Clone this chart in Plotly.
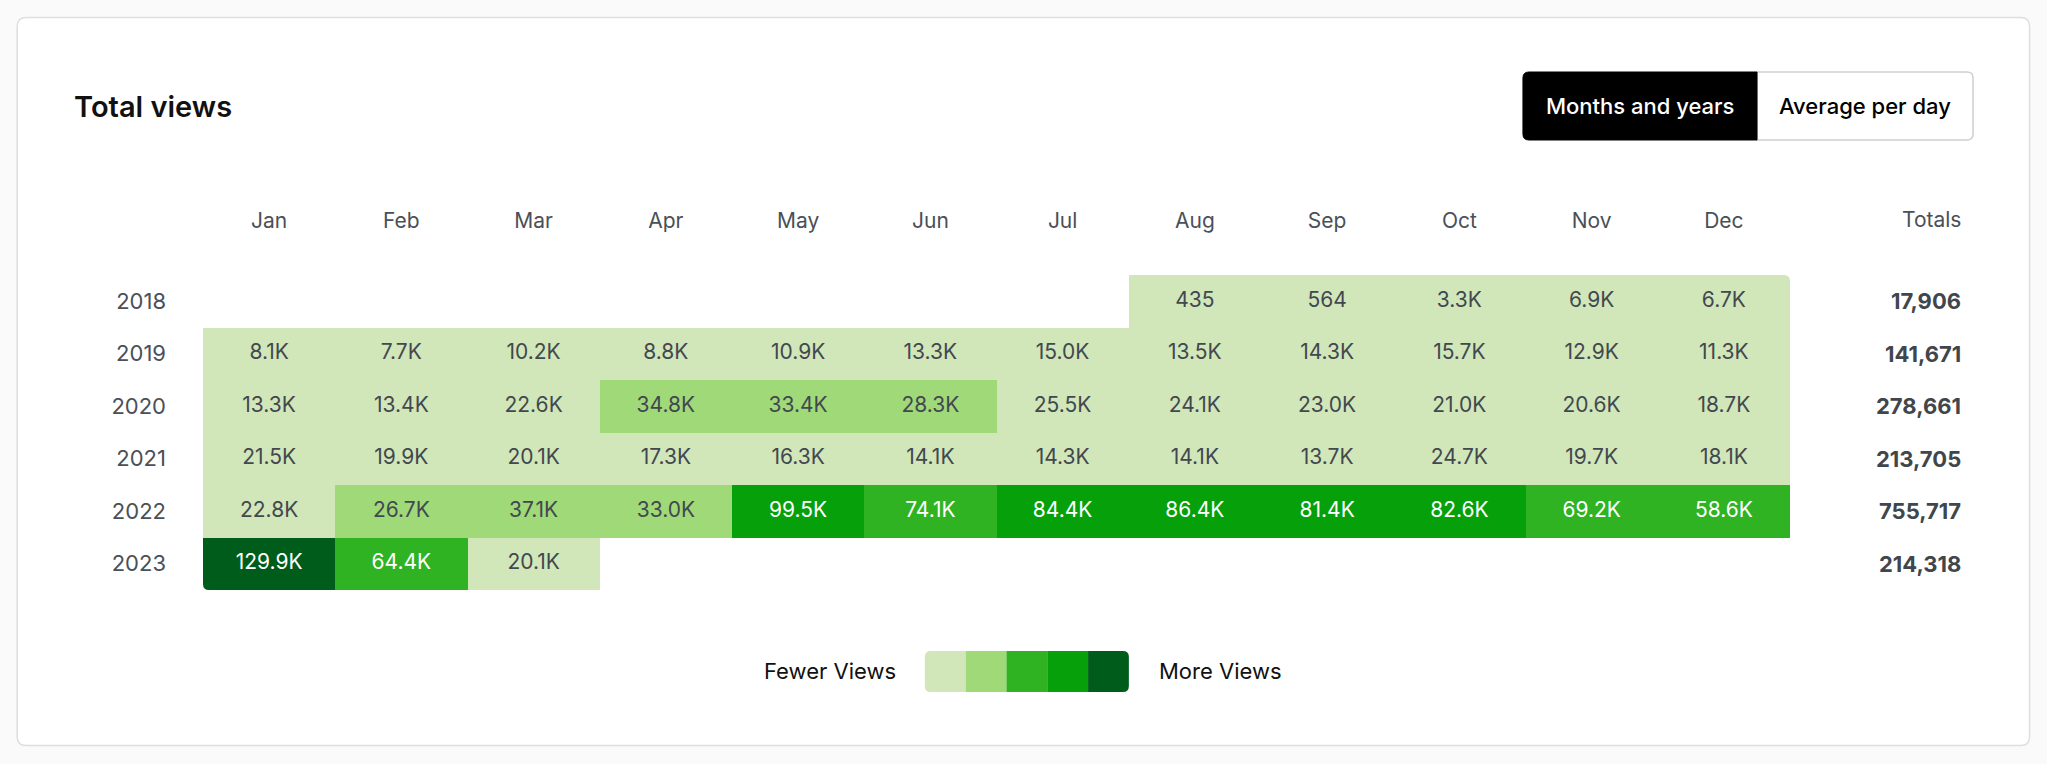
import plotly.graph_objects as go

# ---------------- data ----------------
months = ["Jan", "Feb", "Mar", "Apr", "May", "Jun", "Jul", "Aug", "Sep", "Oct", "Nov", "Dec"]
years = ["2018", "2019", "2020", "2021", "2022", "2023"]

views_2018 = [None, None, None, None, None, None, None, 435, 564, 3300, 6900, 6700]
views_2019 = [8100, 7700, 10200, 8800, 10900, 13300, 15000, 13500, 14300, 15700, 12900, 11300]
views_2020 = [13300, 13400, 22600, 34800, 33400, 28300, 25500, 24100, 23000, 21000, 20600, 18700]
views_2021 = [21500, 19900, 20100, 17300, 16300, 14100, 14300, 14100, 13700, 24700, 19700, 18100]
views_2022 = [22800, 26700, 37100, 33000, 99500, 74100, 84400, 86400, 81400, 82600, 69200, 58600]
views_2023 = [129900, 64400, 20100, None, None, None, None, None, None, None, None, None]

totals = [17906, 141671, 278661, 213705, 755717, 214318]

level_colors = ["#d1e6b9", "#a0d978", "#30b322", "#06a00b", "#005c1b"]

title_text = "Total views"
button_labels = ["Months and years", "Average per day"]
legend_labels = ["Fewer Views", "More Views"]
totals_header = "Totals"

# ---------------- layout geometry (pixels) ----------------
W, H = 2047, 764
L, R, T, B = 203.3, 1790.0, 275.0, 590.0
FONT = "Inter, Roboto, 'Noto Sans', sans-serif"
TXT = "#4a5057"


def px2x(px):
    return (px - L) / (R - L)


def py2y(py):
    return (B - py) / (B - T)


def P(x, y):
    return f"{px2x(x):.6f},{py2y(y):.6f}"


def rrect(x0, y0, x1, y1, r, tl=True, tr=True, br=True, bl=True):
    """rounded rect path from pixel coords into paper coords"""
    rtl, rtr, rbr, rbl = (r if tl else 0), (r if tr else 0), (r if br else 0), (r if bl else 0)
    p = f"M{P(x0 + rtl, y0)} L{P(x1 - rtr, y0)} "
    p += f"Q{P(x1, y0)} {P(x1, y0 + rtr)} " if rtr else ""
    p += f"L{P(x1, y1 - rbr)} "
    p += f"Q{P(x1, y1)} {P(x1 - rbr, y1)} " if rbr else ""
    p += f"L{P(x0 + rbl, y1)} "
    p += f"Q{P(x0, y1)} {P(x0, y1 - rbl)} " if rbl else ""
    p += f"L{P(x0, y0 + rtl)} "
    p += f"Q{P(x0, y0)} {P(x0 + rtl, y0)} " if rtl else ""
    return p + "Z"


def corner_mask(cx, cy, dx, dy, r):
    """white patch outside a rounded corner at (cx, cy); dx/dy point inward"""
    return (f"M{P(cx, cy)} L{P(cx + dx * r, cy)} "
            f"Q{P(cx, cy)} {P(cx, cy + dy * r)} Z")


# ---------------- build ----------------
rows = [views_2018, views_2019, views_2020, views_2021, views_2022, views_2023]
vmax = max(v for row in rows for v in row if v is not None)


def fmt(v):
    return str(v) if v < 1000 else f"{v / 1000:.1f}K"


def level(v):
    return min(int(v / vmax * 5), 4)


cs = []
for i, c in enumerate(level_colors):
    cs.append([i / 5, c])
    cs.append([(i + 1) / 5, c])

fig = go.Figure()
fig.add_trace(go.Heatmap(
    z=rows, x=months, y=years, colorscale=cs, zmin=0, zmax=vmax,
    showscale=False, hoverinfo="skip", xgap=0, ygap=0,
))

tx, ty, tt, tc = [], [], [], []
for yr, row in zip(years, rows):
    for m, v in zip(months, row):
        if v is None:
            continue
        tx.append(m)
        ty.append(yr)
        tt.append(fmt(v))
        tc.append("#ffffff" if level(v) >= 2 else "#42484f")
fig.add_trace(go.Scatter(
    x=tx, y=ty, text=tt, mode="text", hoverinfo="skip",
    textfont=dict(family=FONT, size=21, color=tc), textposition="middle center",
    showlegend=False,
))

shapes = []
# card
shapes.append(dict(type="path", xref="paper", yref="paper", layer="below",
                   path=rrect(17.5, 17.5, 2029.5, 745.5, 9),
                   fillcolor="#ffffff", line=dict(color="#dedede", width=1.5)))
# rounded outer corners of the grid
for cx, cy, dx, dy in [(R, T, -1, 1), (L, B, 1, -1), (L, T, 1, 1), (R, B, -1, -1)]:
    shapes.append(dict(type="path", xref="paper", yref="paper", layer="above",
                       path=corner_mask(cx, cy, dx, dy, 6),
                       fillcolor="#ffffff", line=dict(width=0)))
# buttons
shapes.append(dict(type="path", xref="paper", yref="paper", layer="above",
                   path=rrect(1757, 72, 1973, 140, 6, tl=False, bl=False),
                   fillcolor="#ffffff", line=dict(color="#cfcfcf", width=1.5)))
shapes.append(dict(type="path", xref="paper", yref="paper", layer="above",
                   path=rrect(1523, 72, 1757, 140, 6, tr=False, br=False),
                   fillcolor="#000000", line=dict(color="#000000", width=1)))
# legend swatches
sw0, sww = 925.0, 40.8
for i, c in enumerate(level_colors):
    x0 = sw0 + i * sww
    shapes.append(dict(type="path", xref="paper", yref="paper", layer="above",
                       path=rrect(x0, 651, x0 + sww, 692, 6,
                                  tl=(i == 0), bl=(i == 0), tr=(i == 4), br=(i == 4)),
                       fillcolor=c, line=dict(width=0)))

ann = []
ann.append(dict(text=title_text, xref="paper", yref="paper", x=px2x(72), y=py2y(107),
                xanchor="left", yanchor="middle", showarrow=False,
                font=dict(family=FONT, size=29, color="#111111", weight=600)))
ann.append(dict(text=button_labels[0], xref="paper", yref="paper", x=px2x(1640), y=py2y(106),
                xanchor="center", yanchor="middle", showarrow=False,
                font=dict(family=FONT, size=22, color="#ffffff", weight=500)))
ann.append(dict(text=button_labels[1], xref="paper", yref="paper", x=px2x(1865), y=py2y(106),
                xanchor="center", yanchor="middle", showarrow=False,
                font=dict(family=FONT, size=22, color="#000000", weight=500)))
ann.append(dict(text=totals_header, xref="paper", yref="paper", x=px2x(1963), y=py2y(219),
                xanchor="right", yanchor="middle", showarrow=False,
                font=dict(family=FONT, size=21, color=TXT)))
for i, t in enumerate(totals):
    ann.append(dict(text=f"<b>{t:,}</b>", xref="paper", yref="y", x=px2x(1963), y=i,
                    xanchor="right", yanchor="middle", showarrow=False,
                    font=dict(family=FONT, size=22, color="#40464c")))
ann.append(dict(text=legend_labels[0], xref="paper", yref="paper", x=px2x(898), y=py2y(671),
                xanchor="right", yanchor="middle", showarrow=False,
                font=dict(family=FONT, size=22, color="#111111")))
ann.append(dict(text=legend_labels[1], xref="paper", yref="paper", x=px2x(1157), y=py2y(671),
                xanchor="left", yanchor="middle", showarrow=False,
                font=dict(family=FONT, size=22, color="#111111")))

fig.update_layout(
    width=W, height=H, autosize=False,
    margin=dict(l=L, r=W - R, t=T, b=H - B, pad=0),
    paper_bgcolor="#fafafa", plot_bgcolor="rgba(0,0,0,0)",
    shapes=shapes, annotations=ann, showlegend=False,
    font=dict(family=FONT, color=TXT),
)
fig.update_xaxes(side="top", type="category", categoryorder="array", categoryarray=months,
                 range=[-0.5, 11.5], showgrid=False, zeroline=False, showline=False,
                 ticks="", ticklabelstandoff=42, tickfont=dict(family=FONT, size=21, color=TXT),
                 fixedrange=True)
fig.update_yaxes(type="category", categoryorder="array", categoryarray=years,
                 range=[5.5, -0.5], showgrid=False, zeroline=False, showline=False,
                 ticks="", ticklabelstandoff=36, tickfont=dict(family=FONT, size=22, color=TXT),
                 fixedrange=True)

fig.write_html("out.html", config={"displayModeBar": False})
